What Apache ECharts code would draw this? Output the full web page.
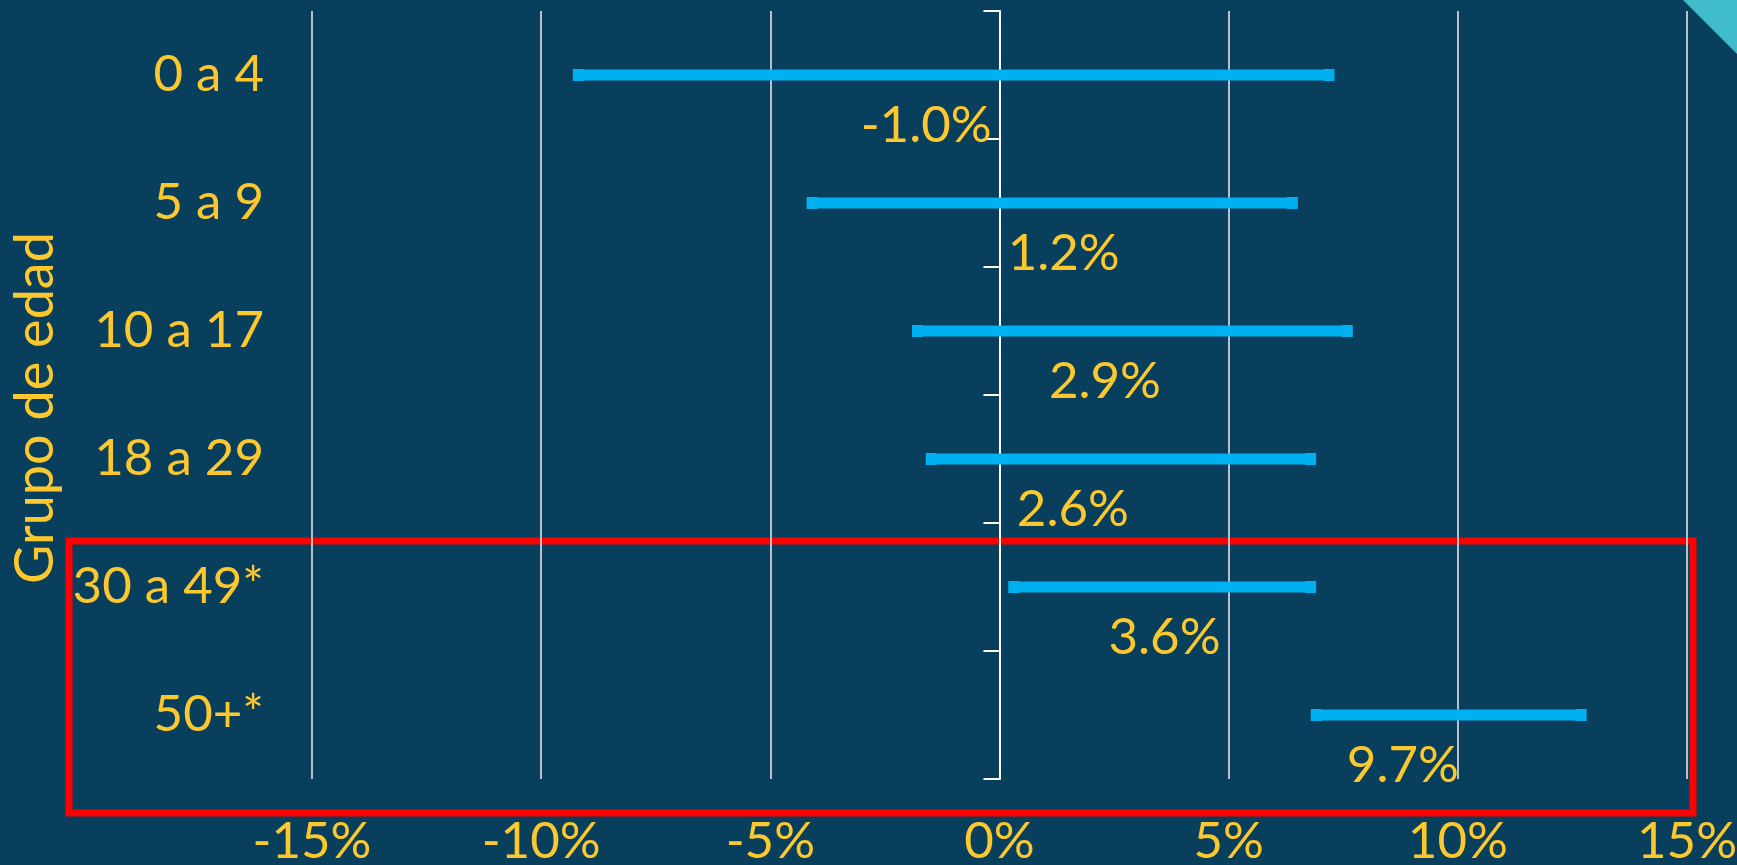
<html>
<head>
<title>Grupo de edad</title>
<script src="https://cdn.jsdelivr.net/npm/echarts@6/dist/echarts.min.js"></script>
<style>
  body { margin: 0; background: #083f5d; }
  #container { width: 1737px; height: 865px; }
</style>
</head>
<body>
	<div id="container"></div>
	<script type="text/javascript">
		// datos
		var categories = ['0 a 4', '5 a 9', '10 a 17', '18 a 29', '30 a 49*', '50+*'];
		var lowCI = [-9.2, -4.1, -1.8, -1.5, 0.3, 6.9];
		var highCI = [7.2, 6.4, 7.6, 6.8, 6.8, 12.7];
		var estimates = [-1.0, 1.2, 2.9, 2.6, 3.6, 9.7];
		var labelX = [-1.6, 1.4, 2.3, 1.6, 3.6, 8.8];
		var xTicks = [-15, -10, -5, 0, 5, 10, 15];

		var fontName = "Lato, 'Noto Sans', sans-serif";
		var yellow = '#fcc82d';
		var blue = '#00b0f0';

		var rangeData = [];
		var labelData = [];
		for (var i = 0; i < categories.length; i++) {
			rangeData.push([i, lowCI[i], highCI[i]]);
			labelData.push([labelX[i], i, estimates[i]]);
		}

		var dom = document.getElementById("container");
		var myChart = echarts.init(dom);
		var option = {
		  backgroundColor: '#083f5d',
		  animation: false,
		  grid: { left: 312, right: 50, top: 11, bottom: 86, containLabel: false, outerBoundsMode: 'none' },
		  xAxis: {
		    type: 'value',
		    min: xTicks[0],
		    max: xTicks[xTicks.length - 1],
		    interval: 5,
		    axisLine: { show: false },
		    axisTick: { show: false },
		    splitLine: { lineStyle: { color: '#b9c0c8', width: 2 } },
		    axisLabel: {
		      formatter: '{value}%',
		      color: yellow,
		      fontFamily: fontName,
		      fontSize: 51,
		      margin: 24
		    }
		  },
		  yAxis: [
		    {
		      type: 'category',
		      data: categories,
		      inverse: true,
		      position: 'left',
		      axisLine: { show: false, onZero: false },
		      axisTick: { show: false },
		      splitLine: { show: false },
		      axisLabel: {
		        interval: 0,
		        color: yellow,
		        fontFamily: fontName,
		        fontSize: 51,
		        margin: 48
		      },
		      name: 'Grupo de edad',
		      nameLocation: 'middle',
		      nameGap: 236,
		      nameMoveOverlap: false,
		      nameTextStyle: { color: yellow, fontFamily: fontName, fontSize: 54, padding: [0, 26, 0, 0] }
		    },
		    {
		      type: 'category',
		      data: categories,
		      inverse: true,
		      position: 'left',
		      axisLine: { show: true, onZero: true, lineStyle: { color: '#ffffff', width: 2 } },
		      axisTick: { show: true, interval: 0, length: 16, lineStyle: { color: '#ffffff', width: 2 } },
		      axisLabel: { show: false },
		      splitLine: { show: false }
		    }
		  ],
		  series: [
		    {
		      type: 'custom',
		      yAxisIndex: 0,
		      encode: { x: [1, 2], y: 0 },
		      data: rangeData,
		      renderItem: function (params, api) {
		        var p1 = api.coord([api.value(1), api.value(0)]);
		        var p2 = api.coord([api.value(2), api.value(0)]);
		        return {
		          type: 'group',
		          children: [
		            { type: 'line', shape: { x1: p1[0], y1: p1[1], x2: p2[0], y2: p2[1] },
		              style: { stroke: blue, lineWidth: 11 } },
		            { type: 'rect', shape: { x: p1[0] - 5, y: p1[1] - 6, width: 11, height: 12 },
		              style: { fill: blue } },
		            { type: 'rect', shape: { x: p2[0] - 6, y: p2[1] - 6, width: 11, height: 12 },
		              style: { fill: blue } }
		          ]
		        };
		      }
		    },
		    {
		      type: 'scatter',
		      yAxisIndex: 0,
		      symbolSize: 0,
		      itemStyle: { opacity: 1 },
		      data: labelData,
		      label: {
		        show: true,
		        position: 'inside',
		        offset: [0, 51],
		        color: yellow,
		        opacity: 1,
		        fontFamily: fontName,
		        fontSize: 51,
		        formatter: function (p) { return p.value[2].toFixed(1) + '%'; }
		      }
		    }
		  ],
		  graphic: [
		    {
		      type: 'rect',
		      shape: { x: 69, y: 541, width: 1624, height: 272 },
		      style: { fill: 'none', stroke: '#ff0000', lineWidth: 7 }
		    },
		    {
		      type: 'polygon',
		      shape: { points: [[1683, 0], [1737, 0], [1737, 54]] },
		      style: { fill: '#40bccb' }
		    }
		  ]
		};
		if (option && typeof option === 'object') {
			myChart.setOption(option);
		}
    </script>
</body>
</html>
